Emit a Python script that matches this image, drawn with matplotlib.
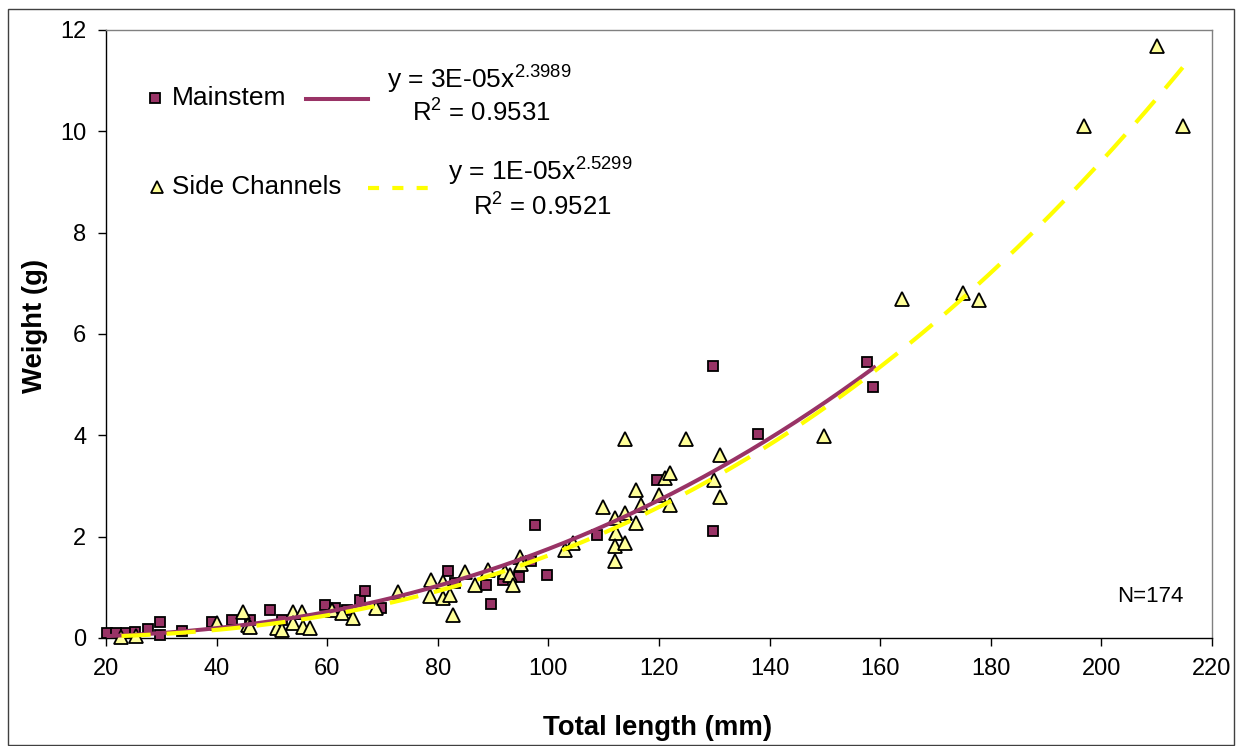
import matplotlib
matplotlib.use("Agg")
import matplotlib.pyplot as plt
import numpy as np
from matplotlib.lines import Line2D
from matplotlib.patches import Rectangle

plt.rcParams['font.family'] = ['Liberation Sans', 'DejaVu Sans']
plt.rcParams['mathtext.fontset'] = 'custom'
plt.rcParams['mathtext.rm'] = 'Liberation Sans'
plt.rcParams['mathtext.it'] = 'Liberation Sans:italic'
plt.rcParams['mathtext.bf'] = 'Liberation Sans:bold'
plt.rcParams['lines.scale_dashes'] = False

# ---- data: fish total length (mm) and weight (g) ----
main_len = [20.1, 21.8, 23.7, 25.2, 27.6, 29.8, 29.8, 33.7, 39.1, 42.7, 46.0, 49.6,
            51.8, 59.6, 61.4, 63.5, 65.9, 66.8, 69.8, 81.9, 83.1, 88.8, 89.6, 91.8,
            94.7, 96.9, 97.5, 99.8, 108.7, 119.7, 129.8, 129.8, 137.9, 157.6, 158.7]
main_wt = [0.09, 0.09, 0.10, 0.12, 0.17, 0.32, 0.06, 0.14, 0.32, 0.36, 0.36, 0.55,
           0.35, 0.65, 0.59, 0.55, 0.75, 0.93, 0.59, 1.32, 1.09, 1.05, 0.67, 1.14,
           1.20, 1.51, 2.23, 1.24, 2.03, 3.12, 5.37, 2.12, 4.03, 5.44, 4.96]

side_len = [22.8, 25.5, 40.0, 44.8, 45.7, 46.0, 50.9, 51.8, 53.9, 53.9, 55.4, 55.7,
            56.9, 60.8, 62.6, 64.7, 68.9, 72.8, 78.7, 78.6, 81.0, 81.0, 82.2, 82.8,
            84.9, 86.7, 89.1, 92.1, 93.0, 93.6, 94.8, 95.1, 103.0, 104.5, 109.9,
            112.0, 112.2, 112.0, 112.0, 113.8, 113.8, 113.8, 115.9, 115.9, 116.8,
            120.0, 121.0, 121.9, 121.9, 124.8, 129.9, 131.1, 131.1, 149.9, 163.9,
            175.0, 177.8, 196.8, 210.0, 214.7]
side_wt = [0.02, 0.03, 0.29, 0.52, 0.26, 0.22, 0.19, 0.16, 0.52, 0.29, 0.52, 0.22,
           0.19, 0.55, 0.49, 0.39, 0.59, 0.91, 1.14, 0.82, 1.11, 0.78, 0.85, 0.45,
           1.31, 1.05, 1.34, 1.31, 1.24, 1.05, 1.60, 1.47, 1.74, 1.87, 2.58,
           2.36, 2.08, 1.82, 1.51, 3.92, 2.46, 1.88, 2.93, 2.26, 2.62,
           2.82, 3.15, 3.25, 2.62, 3.92, 3.12, 3.61, 2.79, 3.99, 6.70,
           6.80, 6.68, 10.10, 11.68, 10.10]

# power-law fits  W = a * L^b
main_a, main_b, main_r2 = 2.8e-5, 2.3989, 0.9531
side_a, side_b, side_r2 = 1.42e-5, 2.5299, 0.9521
n_total = 174

x_ticks = list(range(20, 221, 20))
y_ticks = list(range(0, 13, 2))

W, H = 1240, 746
fig = plt.figure(figsize=(W / 100, H / 100), dpi=100)


def fx(px):
    return px / W


def fy(py):
    return 1 - py / H


ax = fig.add_axes([fx(106), fy(638), fx(1212) - fx(106), fy(30) - fy(638)])
ax.set_xlim(20, 220)
ax.set_ylim(0, 12)
ax.set_xticks(x_ticks)
ax.set_yticks(y_ticks)
ax.tick_params(direction='out', length=5.8, width=1, labelsize=17, pad=8.5, colors='black')
for s in ('left', 'bottom'):
    ax.spines[s].set_color('black')
    ax.spines[s].set_linewidth(1)
for s in ('top', 'right'):
    ax.spines[s].set_color('#808080')
    ax.spines[s].set_linewidth(1)

plum = '#993366'
pale = '#FFFF99'
yellow = '#FFFF00'

ax.plot(main_len, main_wt, ls='none', marker='s', ms=7.9, mfc=plum, mec='black',
        mew=1.3, zorder=3, clip_on=False)
ax.plot(side_len, side_wt, ls='none', marker='^', ms=9.4, mfc=pale, mec='black',
        mew=1.3, zorder=4, clip_on=False)

xm = np.linspace(min(main_len), max(main_len) + 0.5, 300)
ax.plot(xm, main_a * xm ** main_b, color=plum, lw=2.9, zorder=5, solid_capstyle='butt')
xs = np.linspace(min(side_len), max(side_len), 400)
ax.plot(xs, side_a * xs ** side_b, color=yellow, lw=3.0, zorder=6,
        dashes=(21, 11.5), solid_capstyle='butt')

ax.text(0.974, 0.069, f'N={n_total}', transform=ax.transAxes, fontsize=16,
        ha='right', va='center')

fig.text(fx(35), fy(326), 'Weight (g)', rotation=90, fontsize=19.8, fontweight='bold',
         ha='center', va='center')
fig.text(fx(658), fy(728), 'Total length (mm)', fontsize=19.8, fontweight='bold',
         ha='center', va='center')

# legend entries with trendline equations
fig.add_artist(Line2D([fx(155)], [fy(98)], marker='s', ms=7.0, mfc=plum, mec='black',
                      mew=1.3, ls='none'))
fig.text(fx(172), fy(98), 'Mainstem', fontsize=19, ha='left', va='center')
fig.add_artist(Line2D([fx(306), fx(368)], [fy(99), fy(99)], color=plum, lw=2.9))
fig.text(fx(387), fy(80), f'y = {main_a:.0E}x$^{{\\mathrm{{{main_b:.4f}}}}}$', fontsize=19,
         ha='left', va='center')
fig.text(fx(412), fy(113), f'R$^{{\\mathrm{{2}}}}$ = {main_r2:.4f}', fontsize=18.5,
         ha='left', va='center')

fig.add_artist(Line2D([fx(157)], [fy(187)], marker='^', ms=8.0, mfc=pale, mec='black',
                      mew=1.3, ls='none'))
fig.text(fx(172), fy(187), 'Side Channels', fontsize=18.7, ha='left', va='center')
fig.add_artist(Line2D([fx(368), fx(430)], [fy(188), fy(188)], color=yellow, lw=3.0,
                      dashes=(8, 9.5)))
fig.text(fx(448), fy(172), f'y = {side_a:.0E}x$^{{\\mathrm{{{side_b:.4f}}}}}$', fontsize=19,
         ha='left', va='center')
fig.text(fx(473), fy(207), f'R$^{{\\mathrm{{2}}}}$ = {side_r2:.4f}', fontsize=18.5,
         ha='left', va='center')

# chart frame
fig.add_artist(Rectangle((fx(8), fy(745)), fx(1234) - fx(8), fy(9) - fy(745),
                         fill=False, edgecolor='#404040', lw=1.0,
                         transform=fig.transFigure))

fig.savefig('out.png', dpi=100)
